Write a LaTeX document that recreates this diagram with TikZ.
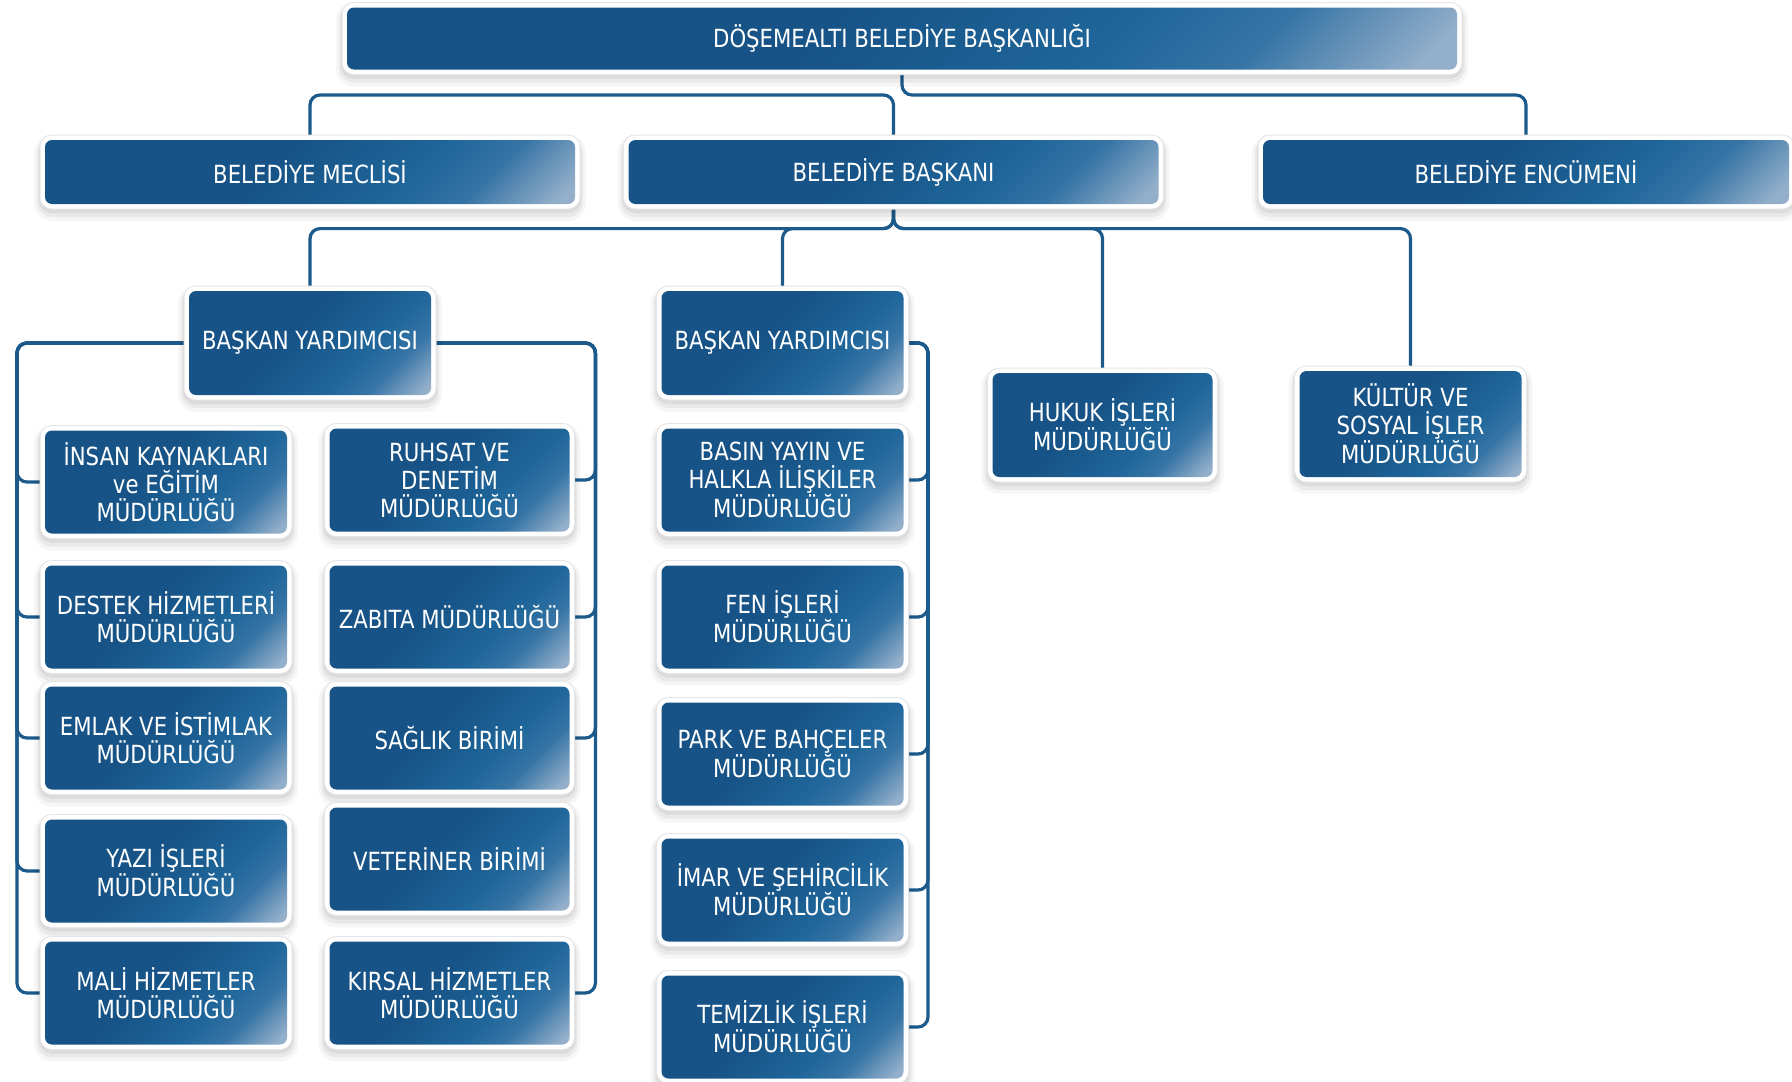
\documentclass[tikz,border=0pt]{standalone}
\usepackage{fontspec}
\setmainfont{DejaVu Sans}[FakeStretch=0.85]
\definecolor{bA}{HTML}{175386}
\definecolor{bB}{HTML}{1F669A}
\definecolor{bC}{HTML}{3674A5}
\definecolor{bD}{HTML}{93AFCA}
\definecolor{lineblue}{HTML}{1B5A8A}
\pgfdeclarehorizontalshading{boxsh}{100bp}{color(0bp)=(bA); color(45bp)=(bA); color(63bp)=(bB); color(72bp)=(bC); color(83bp)=(bD); color(100bp)=(bD)}
\pgfdeclarelayer{paper}
\pgfdeclarelayer{background}
\pgfsetlayers{paper,background,main}
\begin{document}
\begin{tikzpicture}[x=1pt,y=1pt,
  box/.style={shade, shading=boxsh, shading angle=-45, rounded corners=7pt, inner sep=0pt,
    text=white, align=center, font=\fontsize{25}{28}\selectfont,
    preaction={draw=black, draw opacity=0.035, line width=22pt, transform canvas={yshift=-6pt}},
    preaction={draw=black, draw opacity=0.05, line width=16pt, transform canvas={yshift=-5pt}},
    preaction={draw=black, draw opacity=0.06, line width=12pt, transform canvas={yshift=-3pt}},
    preaction={draw=black!10, line width=11pt},
    preaction={draw=white, line width=9pt}},
  conn/.style={draw=lineblue, line width=3.2pt, rounded corners=10pt}]
\useasboundingbox (0,0) rectangle (1792,-1082);
\begin{pgfonlayer}{paper}
\fill[white] (0,0) rectangle (1792,-1082);
\end{pgfonlayer}

% level 0 and 1
\node[box, minimum width=1110pt, minimum height=62pt] (top) at (902,-38.5) {DÖŞEMEALTI BELEDİYE BAŞKANLIĞI};
\node[box, minimum width=530pt, minimum height=64pt] (mec) at (310,-172) {BELEDİYE MECLİSİ};
\node[box, minimum width=530pt, minimum height=64pt] (bsk) at (893.5,-172) {BELEDİYE BAŞKANI};
\node[box, minimum width=526pt, minimum height=64pt] (enc) at (1526,-172) {BELEDİYE ENCÜMENİ};

% level 2
\node[box, minimum width=242pt, minimum height=104pt] (by1) at (310,-343) {BAŞKAN YARDIMCISI};
\node[box, minimum width=242pt, minimum height=104pt] (by2) at (782.5,-343) {BAŞKAN YARDIMCISI};
\node[box, minimum width=220pt, minimum height=104pt] (huk) at (1102.5,-425) {HUKUK İŞLERİ\\MÜDÜRLÜĞÜ};
\node[box, minimum width=222pt, minimum height=106pt] (kul) at (1410.5,-424) {KÜLTÜR VE\\SOSYAL İŞLER\\MÜDÜRLÜĞÜ};

% left column
\node[box, minimum width=242pt, minimum height=103pt] (ins) at (166,-482) {İNSAN KAYNAKLARI\\ve EĞİTİM\\MÜDÜRLÜĞÜ};
\node[box, minimum width=242pt, minimum height=103pt] (des) at (166,-617) {DESTEK HİZMETLERİ\\MÜDÜRLÜĞÜ};
\node[box, minimum width=242pt, minimum height=103pt] (eml) at (166,-738) {EMLAK VE İSTİMLAK\\MÜDÜRLÜĞÜ};
\node[box, minimum width=242pt, minimum height=103pt] (yaz) at (166,-871) {YAZI İŞLERİ\\MÜDÜRLÜĞÜ};
\node[box, minimum width=242pt, minimum height=103pt] (mal) at (166,-993) {MALİ HİZMETLER\\MÜDÜRLÜĞÜ};

% right column
\node[box, minimum width=240pt, minimum height=103pt] (ruh) at (449.5,-480) {RUHSAT VE\\DENETİM\\MÜDÜRLÜĞÜ};
\node[box, minimum width=240pt, minimum height=103pt] (zab) at (449.5,-617) {ZABITA MÜDÜRLÜĞÜ};
\node[box, minimum width=240pt, minimum height=103pt] (sag) at (449.5,-738) {SAĞLIK BİRİMİ};
\node[box, minimum width=240pt, minimum height=103pt] (vet) at (449.5,-859) {VETERİNER BİRİMİ};
\node[box, minimum width=240pt, minimum height=103pt] (kir) at (449.5,-993) {KIRSAL HİZMETLER\\MÜDÜRLÜĞÜ};

% second vice-mayor column
\node[box, minimum width=242pt, minimum height=103pt] (bas) at (782.5,-480) {BASIN YAYIN VE\\HALKLA İLİŞKİLER\\MÜDÜRLÜĞÜ};
\node[box, minimum width=242pt, minimum height=103pt] (fen) at (782.5,-617) {FEN İŞLERİ\\MÜDÜRLÜĞÜ};
\node[box, minimum width=242pt, minimum height=103pt] (prk) at (782.5,-754) {PARK VE BAHÇELER\\MÜDÜRLÜĞÜ};
\node[box, minimum width=242pt, minimum height=103pt] (imr) at (782.5,-890) {İMAR VE ŞEHİRCİLİK\\MÜDÜRLÜĞÜ};
\node[box, minimum width=242pt, minimum height=103pt] (tem) at (782.5,-1027) {TEMİZLİK İŞLERİ\\MÜDÜRLÜĞÜ};

\coordinate (j1) at (0,-95);
\coordinate (j2) at (0,-228.6);
\coordinate (L1) at (17,0);
\coordinate (R1) at (595.4,0);
\coordinate (R2) at (928,0);

\begin{pgfonlayer}{background}
\draw[conn] (top.south) -- (top.south |- j1) -| (enc.north);
\draw[conn] (mec.north) |- (bsk.north |- j1) -- (bsk.north);
\foreach \n in {by1,by2,huk,kul}
  \draw[conn] (bsk.south) -- (bsk.south |- j2) -| (\n.north);
\foreach \n in {ins,des,eml,yaz,mal}
  \draw[conn] (by1.west) -| (L1 |- \n.west) -- (\n.west);
\foreach \n in {ruh,zab,sag,kir}
  \draw[conn] (by1.east) -| (R1 |- \n.east) -- (\n.east);
\foreach \n in {bas,fen,prk,imr,tem}
  \draw[conn] (by2.east) -| (R2 |- \n.east) -- (\n.east);
\end{pgfonlayer}
\end{tikzpicture}
\end{document}
